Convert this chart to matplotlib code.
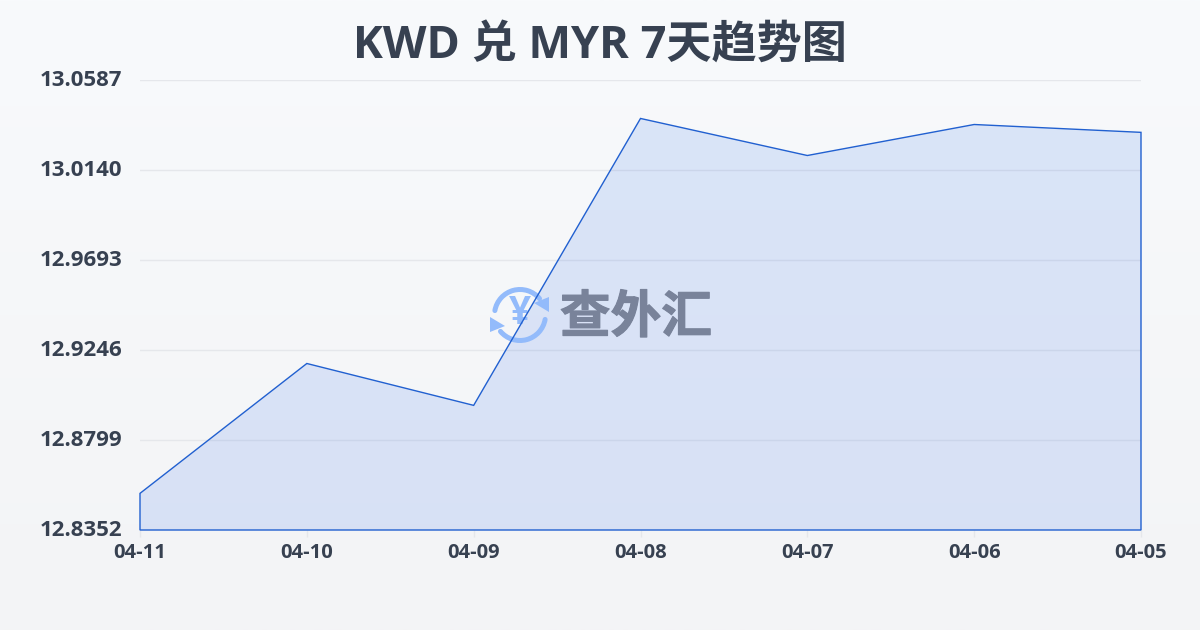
import numpy as np
import matplotlib
matplotlib.use("Agg")
import matplotlib.pyplot as plt
import matplotlib.patheffects as pe
from matplotlib.patches import Arc, Polygon
from matplotlib.transforms import ScaledTranslation

plt.rcParams['font.family'] = ['Open Sans', 'Noto Sans CJK SC', 'DejaVu Sans']

dates = ['04-11', '04-10', '04-09', '04-08', '04-07', '04-06', '04-05']
rates = [12.8534, 12.9179, 12.8971, 13.0396, 13.0212, 13.0366, 13.0327]
y_ticks = [12.8352, 12.8799, 12.9246, 12.9693, 13.0140, 13.0587]
y_labels = ['12.8352', '12.8799', '12.9246', '12.9693', '13.0140', '13.0587']
title = 'KWD 兑 MYR 7天趋势图'
watermark = '查外汇'

W, H = 1200, 630
fig = plt.figure(figsize=(W / 100, H / 100), dpi=100)
rect = [140 / W, 1 - 530 / H, 1001 / W, 450 / H]

# page background gradient
bg = fig.add_axes([0, 0, 1, 1], zorder=0)
bg.axis('off')
grad = np.linspace(0, 1, 256)[:, None, None]
top = np.array([248, 250, 252]) / 255
bottom = np.array([243, 244, 246]) / 255
bg.imshow(top + (bottom - top) * grad, aspect='auto', extent=[0, 1, 0, 1])

x = np.arange(len(dates))
outline = list(zip(x, rates)) + [(x[-1], y_ticks[0]), (x[0], y_ticks[0])]

ax = fig.add_axes(rect, zorder=1)
ax.patch.set_alpha(0)
ax.set_xlim(0, len(dates) - 1)
ax.set_ylim(y_ticks[0], y_ticks[-1])
ax.add_patch(Polygon(outline, closed=True, facecolor='#2f6bea', alpha=0.14,
                     edgecolor='none', zorder=2))
ax.set_yticks(y_ticks)
ax.set_yticklabels(y_labels)
ax.set_xticks(x)
ax.set_xticklabels(dates)
ax.grid(axis='y', color='#e5e7eb', linewidth=1, zorder=1)
ax.set_axisbelow(True)
for s in ax.spines.values():
    s.set_visible(False)
ax.tick_params(axis='y', length=0, pad=13, labelsize=16, labelcolor='#374151')
ax.tick_params(axis='x', length=5, width=1, color='#e5e7eb', pad=4, labelsize=14.5, labelcolor='#374151')
for lab in ax.get_yticklabels() + ax.get_xticklabels():
    lab.set_fontweight('bold')

fig.text(599.5 / W, 1 - 46.5 / H, title, ha='center', va='center', fontsize=32.5,
         fontweight='bold', color='#374151')

# watermark logo
ov = fig.add_axes([0, 0, 1, 1], zorder=2)
ov.set_xlim(0, W)
ov.set_ylim(H, 0)
ov.axis('off')
ov.text(636, 318, watermark, ha='center', va='center', fontsize=36.5, fontweight='bold',
        color='#79839a', family=['Noto Sans CJK SC', 'DejaVu Sans'],
        path_effects=[pe.withStroke(linewidth=0.8, foreground='#79839a')])
ic = (520, 315)
blue = '#93bbfb'
ov.add_patch(Arc(ic, 51, 51, theta1=190, theta2=320, lw=3.6, color=blue, capstyle='round'))
ov.add_patch(Arc(ic, 51, 51, theta1=10, theta2=140, lw=3.6, color=blue, capstyle='round'))
ov.add_patch(Polygon([(534, 303), (549, 297), (549, 312)], closed=True, fc=blue, ec='none'))
ov.add_patch(Polygon([(490, 317), (505, 326), (490, 332)], closed=True, fc=blue, ec='none'))
ov.text(519.5, 314, '¥', ha='center', va='center', fontsize=28, fontweight='bold', color=blue)

# the line runs over the logo
ax2 = fig.add_axes(rect, zorder=3)
ax2.axis('off')
ax2.set_xlim(0, len(dates) - 1)
ax2.set_ylim(y_ticks[0], y_ticks[-1])
ax2.add_patch(Polygon(outline, closed=True, facecolor='none', edgecolor='#2160d0',
                      linewidth=1.0, clip_on=False))

# y labels sit slightly above their grid lines
offset = ScaledTranslation(0, 2 / 100, fig.dpi_scale_trans)
for lab in ax.get_yticklabels():
    lab.set_transform(lab.get_transform() + offset)

fig.savefig('out.png', dpi=100)
